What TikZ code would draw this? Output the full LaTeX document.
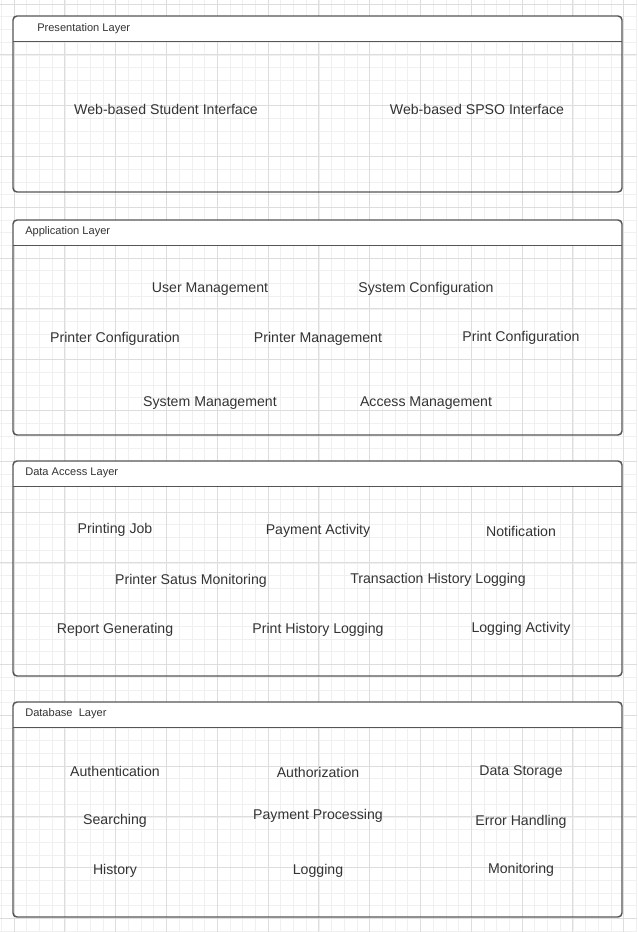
\documentclass[tikz,border=0pt]{standalone}
\usepackage{fontspec}
\setmainfont{Liberation Sans}
\usetikzlibrary{backgrounds}
\definecolor{textgray}{HTML}{333333}
\definecolor{linegray}{HTML}{555555}
\definecolor{minorgrid}{HTML}{F0F0F0}
\definecolor{majorgrid}{HTML}{DDDDDD}
\newcommand{\boxleft}{13}
\newcommand{\boxright}{622}
\newcommand{\headh}{25.5}
\newcommand{\gap}{12.7}

\tikzset{
  layerbox/.style={draw=linegray, line width=1.1pt, rounded corners=3pt},
  layertitle/.style={anchor=west, inner sep=0pt, text=textgray, font=\fontsize{8.3}{10}\selectfont},
  item/.style={inner sep=0pt, yshift=-0.8pt, text=textgray, font=\fontsize{10.6}{12}\selectfont}
}

\begin{document}
\begin{tikzpicture}[x=0.75pt, y=-0.75pt]
\useasboundingbox (0,0) rectangle (637,932);
\fill[white] (0,0) rectangle (637,932);
%Grid
    \foreach\i in {0,...,50} {
            \draw[minorgrid, line width=0.4pt] ({1.3+\gap*\i},0) -- ({1.3+\gap*\i},932);
        }
    \foreach\i in {0,...,73} {
            \draw[minorgrid, line width=0.4pt] (0,{4+\gap*\i}) -- (637,{4+\gap*\i});
        }
    \foreach\i in {0,...,12} {
            \draw[majorgrid, line width=0.5pt] ({14+4*\gap*\i},0) -- ({14+4*\gap*\i},932);
        }
    \foreach\i in {0,...,18} {
            \draw[majorgrid, line width=0.5pt] (0,{4+4*\gap*\i}) -- (637,{4+4*\gap*\i});
        }
%Layers
    \foreach\t/\b in {16/192, 220/435, 461/676, 702/917} {
            \fill[white] (\boxleft,\t+\headh) [rounded corners=3pt] -- (\boxleft,\t) -- (\boxright,\t) [sharp corners] -- (\boxright,\t+\headh) -- cycle;
            \draw[layerbox] (\boxleft,\t) rectangle (\boxright,\b);
            \draw[linegray, line width=1.1pt] (\boxleft,\t+\headh) -- (\boxright,\t+\headh);
        }
    \node[layertitle] (prestitle) at (37,28.5) {Presentation Layer};
    \node[layertitle] (apptitle) at (25,231.5) {Application Layer};
    \node[layertitle] (datatitle) at (25,472.5) {Data Access Layer};
    \node[layertitle] (dbtitle) at (25,713.5) {Database\ \ Layer};
%Presentation Layer
    \node[item] (student) at (166,108) {Web-based Student Interface};
    \node[item] (spso) at (477,108) {Web-based SPSO Interface};
%Application Layer
    \node[item] (usermgmt) at (210,288) {User Management};
    \node[item] (sysconf) at (426,288) {System Configuration};
    \node[item] (printerconf) at (115,338) {Printer Configuration};
    \node[item] (printermgmt) at (318,338) {Printer Management};
    \node[item] (printconf) at (521,337) {Print Configuration};
    \node[item] (sysmgmt) at (210,402) {System Management};
    \node[item] (accessmgmt) at (426,402) {Access Management};
%Data Access Layer
    \node[item] (printjob) at (115,529) {Printing Job};
    \node[item] (payact) at (318,530) {Payment Activity};
    \node[item] (notif) at (521,530) {Notification};
    \node[item] (statmon) at (191,580) {Printer Satus Monitoring};
    \node[item] (translog) at (438,579) {Transaction History Logging};
    \node[item] (report) at (115,629) {Report Generating};
    \node[item] (printlog) at (318,629) {Print History Logging};
    \node[item] (logact) at (521,628) {Logging Activity};
%Database Layer
    \node[item] (authn) at (115,770) {Authentication};
    \node[item] (authz) at (318,771) {Authorization};
    \node[item] (storage) at (521,771) {Data Storage};
    \node[item] (search) at (115,820) {Searching};
    \node[item] (payproc) at (318,815) {Payment Processing};
    \node[item] (error) at (521,821) {Error Handling};
    \node[item] (history) at (115,870) {History};
    \node[item] (logging) at (318,870) {Logging};
    \node[item] (monitor) at (521,869) {Monitoring};
\end{tikzpicture}
\end{document}
